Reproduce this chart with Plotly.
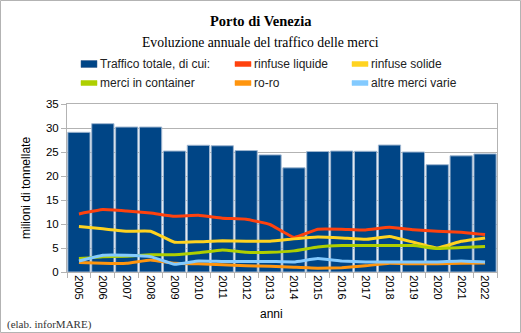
import plotly.graph_objects as go

anni = ["2005","2006","2007","2008","2009","2010","2011","2012","2013",
        "2014","2015","2016","2017","2018","2019","2020","2021","2022"]
totale = [29.1, 30.9, 30.2, 30.2, 25.2, 26.4, 26.3, 25.3, 24.4,
          21.7, 25.1, 25.2, 25.15, 26.45, 25.0, 22.35, 24.2, 24.6]
rinfuse_liquide = [12.1, 13.0, 12.7, 12.3, 11.6, 11.8, 11.2, 11.0, 9.9,
                   7.2, 8.9, 8.9, 8.75, 9.3, 8.8, 8.5, 8.3, 7.8]
rinfuse_solide = [9.5, 9.0, 8.5, 8.5, 6.2, 6.3, 6.5, 6.4, 6.4,
                  6.9, 7.3, 7.1, 6.8, 7.4, 6.2, 5.0, 6.4, 7.1]
container = [2.8, 3.2, 3.3, 3.6, 3.6, 4.0, 4.6, 4.1, 4.1,
             4.4, 5.2, 5.5, 5.5, 5.5, 5.5, 4.9, 5.1, 5.3]
roro = [2.0, 1.8, 1.8, 2.5, 1.8, 1.7, 1.5, 1.3, 1.2,
        1.0, 0.8, 0.9, 1.3, 1.8, 1.7, 1.7, 1.8, 1.9]
altre = [2.3, 3.5, 3.5, 3.2, 1.6, 2.3, 2.2, 2.2, 2.2,
         2.1, 2.8, 2.3, 2.1, 2.1, 2.1, 2.1, 2.3, 2.1]

names = ["Traffico totale, di cui:", "rinfuse liquide", "rinfuse solide",
         "merci in container", "ro-ro", "altre merci varie"]
colors = ["#004586", "#ff420e", "#ffd320", "#aecf00", "#ff950e", "#83caff"]

W, H = 521, 333
L, R, T, B = 67, 24, 104, 61
PW, PH = W - L - R, H - T - B

def px(x):
    return (x - L) / PW

def py(y):
    return (H - B - y) / PH

fig = go.Figure()
fig.add_trace(go.Bar(x=anni, y=totale, name=names[0], marker_color=colors[0],
                     marker_line=dict(color="#9fb6d0", width=1), showlegend=False))
for vals, nm, col in zip([rinfuse_liquide, rinfuse_solide, container, roro, altre],
                         names[1:], colors[1:]):
    fig.add_trace(go.Scatter(x=anni, y=vals, name=nm, mode="lines",
                             line=dict(color=col, width=3, shape="spline", smoothing=0.3),
                             showlegend=False))

shapes = []
annotations = []
# outer border
shapes.append(dict(type="rect", xref="paper", yref="paper",
                   x0=px(0.5), x1=px(W - 0.5), y0=py(0.5), y1=py(H - 0.5),
                   line=dict(color="#b3b3b3", width=1), fillcolor="rgba(0,0,0,0)"))

# manual legend
leg_pos = [(81, 64), (235, 64), (352, 64), (81, 83), (235, 83), (352, 83)]
for i, (nm, col) in enumerate(zip(names, colors)):
    x0, yc = leg_pos[i]
    h = 7 if i == 0 else 5
    shapes.append(dict(type="rect", xref="paper", yref="paper",
                       x0=px(x0), x1=px(x0 + 16), y0=py(yc - h / 2), y1=py(yc + h / 2),
                       line=dict(color="#3a5f8a" if i == 0 else col, width=0.5),
                       fillcolor=col))
    annotations.append(dict(text=nm, xref="paper", yref="paper", x=px(x0 + 17), y=py(yc),
                            xanchor="left", yanchor="middle", showarrow=False,
                            font=dict(family="Liberation Sans", size=12, color="#222")))

annotations += [
    dict(text="<b>Porto di Venezia</b>", xref="paper", yref="paper", x=px(260.5), y=py(21),
         xanchor="center", yanchor="middle", showarrow=False,
         font=dict(family="Liberation Serif", size=14.5, color="#000")),
    dict(text="Evoluzione annuale del traffico delle merci", xref="paper", yref="paper",
         x=px(260.5), y=py(42), xanchor="center", yanchor="middle", showarrow=False,
         font=dict(family="Liberation Serif", size=13.7, color="#000")),
    dict(text="milioni di tonnellate", xref="paper", yref="paper", x=px(26), y=py(188),
         xanchor="center", yanchor="middle", showarrow=False, textangle=-90,
         font=dict(family="Liberation Sans", size=12, color="#000")),
    dict(text="anni", xref="paper", yref="paper", x=px(271), y=py(314),
         xanchor="center", yanchor="middle", showarrow=False,
         font=dict(family="Liberation Sans", size=12, color="#000")),
    dict(text="(elab. inforMARE)", xref="paper", yref="paper", x=px(5), y=py(324),
         xanchor="left", yanchor="middle", showarrow=False,
         font=dict(family="Liberation Serif", size=11, color="#333")),
]

fig.update_layout(
    width=W, height=H,
    margin=dict(l=L, r=R, t=T, b=B, pad=0),
    paper_bgcolor="white", plot_bgcolor="white",
    bargap=0.07,
    shapes=shapes, annotations=annotations,
    showlegend=False,
    xaxis=dict(type="category", tickangle=90, tickson="boundaries",
               ticks="outside", ticklen=5, tickcolor="#b3b3b3",
               showline=True, linecolor="#b3b3b3", linewidth=1, mirror=True,
               showgrid=False, range=[-0.5, 17.5],
               tickfont=dict(family="Liberation Sans", size=11, color="#000")),
    yaxis=dict(range=[0, 35], dtick=5, ticks="outside", ticklen=5, tickcolor="#b3b3b3",
               showline=True, linecolor="#b3b3b3", linewidth=1, mirror=True,
               gridcolor="#b3b3b3", gridwidth=1, zeroline=False,
               tickfont=dict(family="Liberation Sans", size=11.5, color="#000")),
)

fig.write_html("out.html")
